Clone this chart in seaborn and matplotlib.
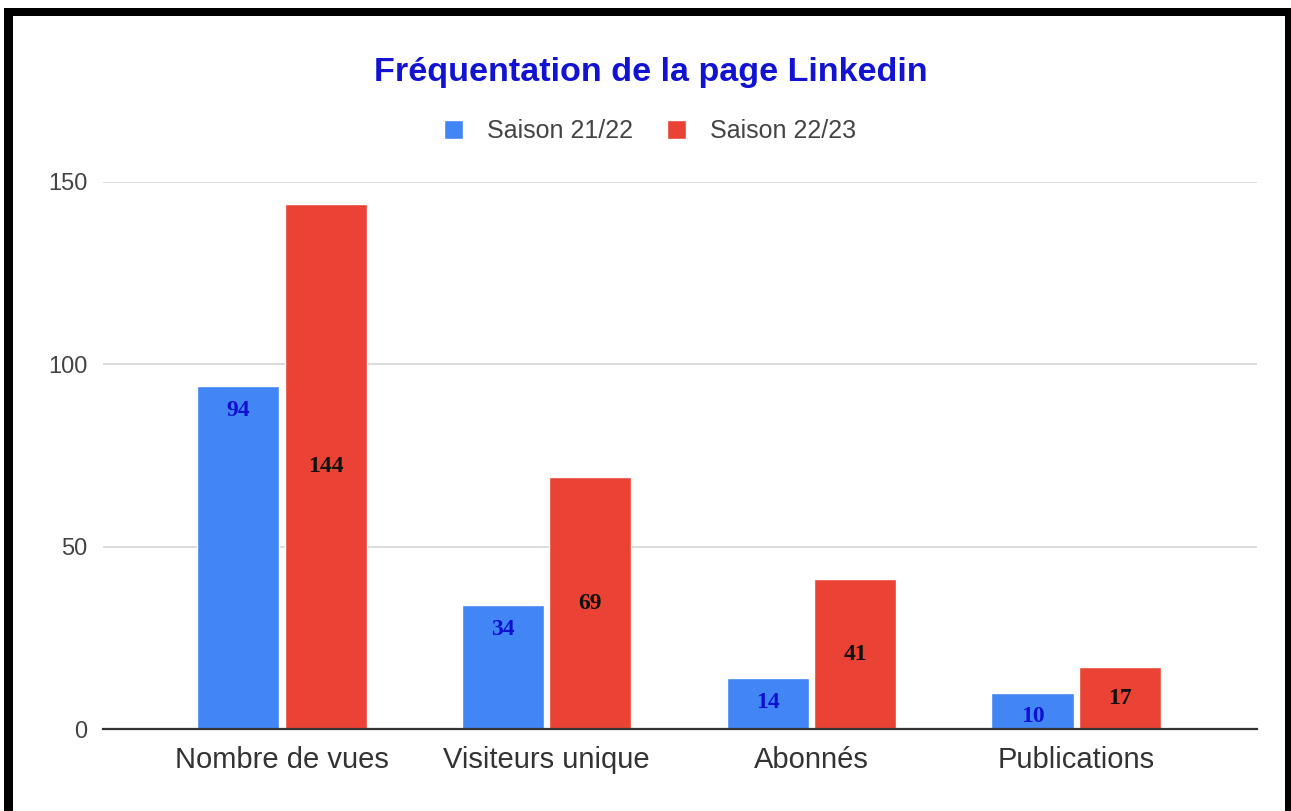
import matplotlib
matplotlib.use("Agg")
import matplotlib.pyplot as plt
import seaborn as sns
import pandas as pd
from matplotlib.patches import Rectangle

# ---- data ----
categories = ["Nombre de vues", "Visiteurs unique", "Abonnés", "Publications"]
saison_21_22 = [94, 34, 14, 10]
saison_22_23 = [144, 69, 41, 17]
series_names = ["Saison 21/22", "Saison 22/23"]
y_ticks = [0, 50, 100, 150]

df = pd.DataFrame({
    "categorie": categories * 2,
    "valeur": saison_21_22 + saison_22_23,
    "saison": [series_names[0]] * len(categories) + [series_names[1]] * len(categories),
})

BLUE = "#4285F4"
RED = "#EA4335"

sns.set_theme(style="white")
plt.rcParams["font.family"] = ["Liberation Sans", "DejaVu Sans"]

W, H = 1291, 811
fig = plt.figure(figsize=(W / 100, H / 100), dpi=100)
fig.patch.set_facecolor("white")

ax = fig.add_axes([103 / W, (H - 729) / H, (1257 - 103) / W, (729 - 182) / H])

sns.barplot(data=df, x="categorie", y="valeur", hue="saison",
            palette=[BLUE, RED], width=0.66, gap=0.06, ax=ax,
            saturation=1, legend=True, errorbar=None)

ax.set_xlim(-0.676, 3.683)
ax.set_ylim(0, 150)
ax.set_yticks(y_ticks)
ax.set_xlabel("")
ax.set_ylabel("")
ax.grid(axis="y", color="#d9d9d9", linewidth=1.3)
ax.set_axisbelow(True)
for s in ["top", "left", "right"]:
    ax.spines[s].set_visible(False)
ax.spines["bottom"].set_color("#333333")
ax.spines["bottom"].set_linewidth(1.6)
ax.spines["bottom"].set_zorder(5)
ax.tick_params(axis="y", length=0, pad=11, labelsize=17, labelcolor="#444444")
ax.tick_params(axis="x", length=0, pad=12, labelsize=21, labelcolor="#333333")

# data labels
blue_bars, red_bars = ax.containers[0], ax.containers[1]
for p in blue_bars:
    h = p.get_height()
    ax.annotate(f"{int(round(h))}", (p.get_x() + p.get_width() / 2, h),
                xytext=(0, -17.5), textcoords="offset points",
                ha="center", va="center", fontsize=17, fontweight="bold",
                color="#1010d0", family="Liberation Serif")
for p in red_bars:
    h = p.get_height()
    ax.annotate(f"{int(round(h))}", (p.get_x() + p.get_width() / 2, h / 2),
                ha="center", va="center", fontsize=17, fontweight="bold",
                color="#111111", family="Liberation Serif")

# legend
leg = ax.legend(loc="center", bbox_to_anchor=(650 / W, 1 - 131 / H),
                bbox_transform=fig.transFigure, ncol=2, frameon=False,
                fontsize=18, handlelength=0.78, handleheight=0.78,
                handletextpad=0.95, columnspacing=1.35)
for t in leg.get_texts():
    t.set_color("#444444")

# title
fig.text(651 / W, 1 - 72 / H, "Fréquentation de la page Linkedin",
         ha="center", va="center", fontsize=24.6, fontweight="bold",
         color="#1212d2")

# black frame (top, left, right)
fig.add_artist(Rectangle((4 / W, (H - 16) / H), (1291 - 4) / W, 8 / H,
                         transform=fig.transFigure, color="black", lw=0))
fig.add_artist(Rectangle((4 / W, 0), 9 / W, (H - 8) / H,
                         transform=fig.transFigure, color="black", lw=0))
fig.add_artist(Rectangle((1285 / W, 0), 6 / W, (H - 8) / H,
                         transform=fig.transFigure, color="black", lw=0))

fig.savefig("out.png", dpi=100)
